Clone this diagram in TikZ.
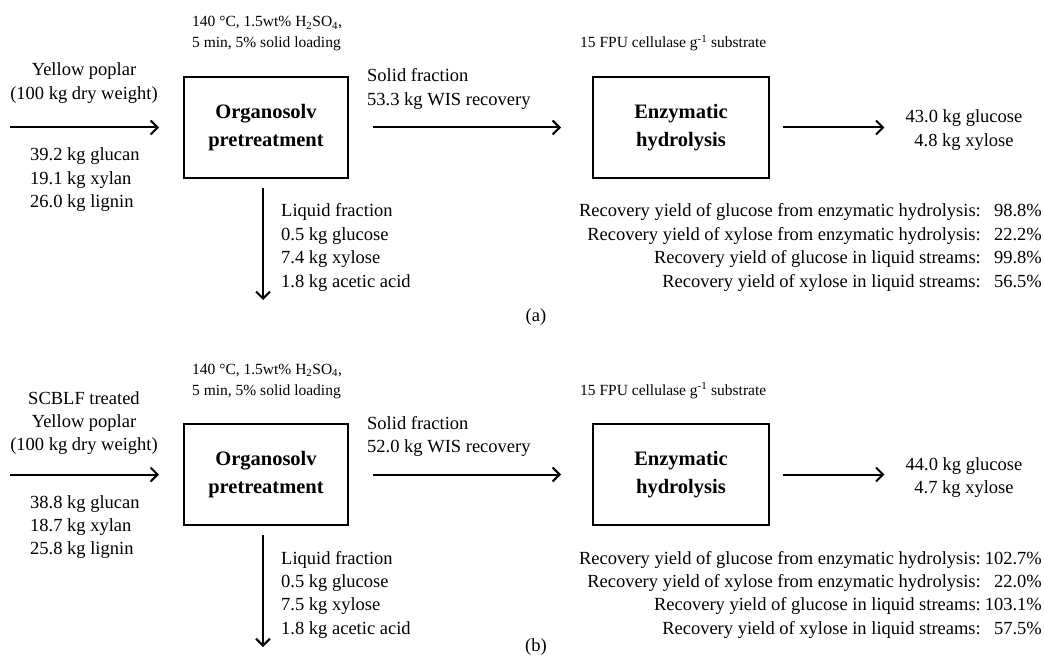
\documentclass[tikz,border=0pt]{standalone}
\usepackage{fontspec}
\setmainfont{Liberation Serif}
\usetikzlibrary{arrows.meta, positioning}
\newcommand{\pct}[1]{\makebox[61pt][r]{#1\%}}

\begin{document}
\begin{tikzpicture}[
            x=1pt, y=1pt,
            txt/.style={inner sep=0pt, font=\fontsize{18.5}{23.4}\selectfont},
            small/.style={inner sep=0pt, font=\fontsize{15.5}{21}\selectfont},
            processbox/.style={rectangle, draw=black, line width=2pt, minimum height=101pt,
                               align=center, font=\fontsize{20.5}{28}\selectfont\bfseries},
            flow/.style={line width=2pt, -{Straight Barb[length=7pt, width=14pt, line width=2pt]}},
            ]
            \useasboundingbox (0,0) rectangle (1044,-655);

            % (a) untreated
            \node[processbox, minimum width=164pt] (orga) at (266,-127.5) {Organosolv\\pretreatment};
            \node[processbox, minimum width=176pt] (enza) at (681,-127.5) {Enzymatic\\hydrolysis};
            \node[small, anchor=base west] (conda) at (192,-27) {\begin{tabular}[t]{@{}l@{}}140 °C, 1.5wt\% H\textsubscript{2}SO\textsubscript{4},\\5 min, 5\% solid loading\end{tabular}};
            \node[small, anchor=base west] (dosea) at (580,-48) {15 FPU cellulase g\textsuperscript{-1} substrate};
            \node[txt, anchor=base] (feeda) at (84,-76) {\begin{tabular}[t]{@{}c@{}}Yellow poplar\\(100 kg dry weight)\end{tabular}};
            \node[txt, anchor=base west] (compa) at (30,-161) {\begin{tabular}[t]{@{}l@{}}39.2 kg glucan\\19.1 kg xylan\\26.0 kg lignin\end{tabular}};
            \node[txt, anchor=base west] (solida) at (367,-82) {\begin{tabular}[t]{@{}l@{}}Solid fraction\\53.3 kg WIS recovery\end{tabular}};
            \node[txt, anchor=base west] (liqa) at (281,-217) {\begin{tabular}[t]{@{}l@{}}Liquid fraction\\0.5 kg glucose\\7.4 kg xylose\\1.8 kg acetic acid\end{tabular}};
            \node[txt, anchor=base] (proda) at (964,-123) {\begin{tabular}[t]{@{}c@{}}43.0 kg glucose\\4.8 kg xylose\end{tabular}};
            \node[txt, anchor=base east] (yielda) at (1042,-217) {\begin{tabular}[t]{@{}r@{}r@{}}
                Recovery yield of glucose from enzymatic hydrolysis: & \pct{98.8}\\
                Recovery yield of xylose from enzymatic hydrolysis: & \pct{22.2}\\
                Recovery yield of glucose in liquid streams: & \pct{99.8}\\
                Recovery yield of xylose in liquid streams: & \pct{56.5}\end{tabular}};
            \node[txt, anchor=base] (laba) at (536,-321) {(a)};
            \coordinate (ina) at (10,-127.5);
            \coordinate (outa) at (263,-300);

            \draw[flow, shorten >=24pt] (ina) -- (orga);
            \draw[flow, shorten <=24pt, shorten >=31pt] (orga) -- (enza);
            \draw[flow, shorten <=13pt, shorten >=21pt] (enza.east) -- (enza.east -| proda.west);
            \draw[flow, shorten <=9pt] (orga.south -| outa) -- (outa);

            % (b) SCBLF treated
            \node[processbox, minimum width=164pt] (orgb) at (266,-474.5) {Organosolv\\pretreatment};
            \node[processbox, minimum width=176pt] (enzb) at (681,-474.5) {Enzymatic\\hydrolysis};
            \node[small, anchor=base west] (condb) at (192,-374) {\begin{tabular}[t]{@{}l@{}}140 °C, 1.5wt\% H\textsubscript{2}SO\textsubscript{4},\\5 min, 5\% solid loading\end{tabular}};
            \node[small, anchor=base west] (doseb) at (580,-395) {15 FPU cellulase g\textsuperscript{-1} substrate};
            \node[txt, anchor=base] (feedb) at (84,-404) {\begin{tabular}[t]{@{}c@{}}SCBLF treated\\Yellow poplar\\(100 kg dry weight)\end{tabular}};
            \node[txt, anchor=base west] (compb) at (30,-508) {\begin{tabular}[t]{@{}l@{}}38.8 kg glucan\\18.7 kg xylan\\25.8 kg lignin\end{tabular}};
            \node[txt, anchor=base west] (solidb) at (367,-429) {\begin{tabular}[t]{@{}l@{}}Solid fraction\\52.0 kg WIS recovery\end{tabular}};
            \node[txt, anchor=base west] (liqb) at (281,-564) {\begin{tabular}[t]{@{}l@{}}Liquid fraction\\0.5 kg glucose\\7.5 kg xylose\\1.8 kg acetic acid\end{tabular}};
            \node[txt, anchor=base] (prodb) at (964,-470) {\begin{tabular}[t]{@{}c@{}}44.0 kg glucose\\4.7 kg xylose\end{tabular}};
            \node[txt, anchor=base east] (yieldb) at (1042,-564) {\begin{tabular}[t]{@{}r@{}r@{}}
                Recovery yield of glucose from enzymatic hydrolysis: & \pct{102.7}\\
                Recovery yield of xylose from enzymatic hydrolysis: & \pct{22.0}\\
                Recovery yield of glucose in liquid streams: & \pct{103.1}\\
                Recovery yield of xylose in liquid streams: & \pct{57.5}\end{tabular}};
            \node[txt, anchor=base] (labb) at (536,-651) {(b)};
            \coordinate (inb) at (10,-474.5);
            \coordinate (outb) at (263,-647);

            \draw[flow, shorten >=24pt] (inb) -- (orgb);
            \draw[flow, shorten <=24pt, shorten >=31pt] (orgb) -- (enzb);
            \draw[flow, shorten <=13pt, shorten >=21pt] (enzb.east) -- (enzb.east -| prodb.west);
            \draw[flow, shorten <=9pt] (orgb.south -| outb) -- (outb);
        \end{tikzpicture}
\end{document}
